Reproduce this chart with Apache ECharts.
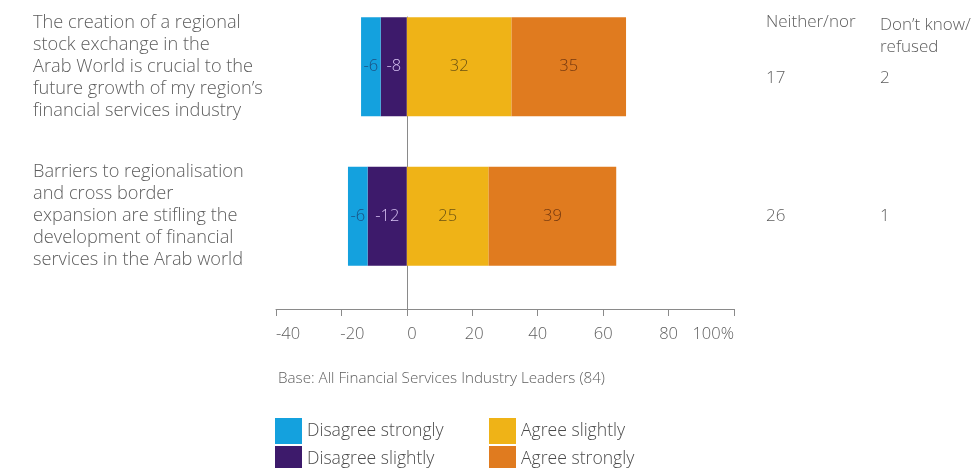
<!DOCTYPE html>
<html>
<head>
<meta charset="utf-8">
<script src="https://cdn.jsdelivr.net/npm/echarts@6/dist/echarts.min.js"></script>
<style>
  html, body { margin: 0; padding: 0; background: #ffffff; }
  #chart { width: 976px; height: 468px; }
</style>
</head>
<body>
<div id="chart"></div>
<script>
// Statements shown on the left (line breaks as printed)
const categories = [
  'The creation of a regional\nstock exchange in the\nArab World is crucial to the\nfuture growth of my region\u2019s\nfinancial services industry',
  'Barriers to regionalisation\nand cross border\nexpansion are stifling the\ndevelopment of financial\nservices in the Arab world'
];

// Response shares (%), disagreement drawn to the left of zero
const disagreeStrongly = [-6, -6];
const disagreeSlightly = [-8, -12];
const agreeSlightly = [32, 25];
const agreeStrongly = [35, 39];

// Side columns
const neitherNor = [17, 26];
const dontKnow = [2, 1];

// Axis range and step (%)
const axisMin = -40;
const axisMax = 100;
const axisStep = 20;

const FONT = '"Open Sans", Lato, sans-serif';
const WEIGHT = 300;
const TEXT = '#5e5e5e';

const chart = echarts.init(document.getElementById('chart'), null, { renderer: 'canvas' });

function barSeries(name, data, color, labelColor) {
  return {
    name: name,
    type: 'bar',
    stack: 'total',
    xAxisIndex: 0,
    yAxisIndex: 0,
    data: data,
    barWidth: 99,
    itemStyle: { color: color },
    label: {
      show: true,
      position: 'inside',
      color: labelColor,
      fontFamily: FONT,
      fontWeight: WEIGHT,
      fontSize: 16.5,
      formatter: '{c}'
    },
    emphasis: { disabled: true }
  };
}

function tickLabel(v) {
  const key = v === -20 ? 'a' : v === 0 ? 'b' : v === 20 ? 'c' : 'n';
  return '{' + key + '|' + (v === 100 ? '100%' : v) + '}';
}
const tickStyle = { fontFamily: FONT, fontWeight: WEIGHT, fontSize: 16.5, color: TEXT };
const tickRich = {
  a: Object.assign({ padding: [0, 0, 0, 22] }, tickStyle),
  b: Object.assign({ padding: [0, 0, 0, 10] }, tickStyle),
  c: Object.assign({ padding: [0, 0, 0, 4] }, tickStyle),
  n: tickStyle
};

function sideAxis(values, offset) {
  const style = { fontFamily: FONT, fontWeight: WEIGHT, fontSize: 17, color: TEXT };
  return {
    type: 'category',
    gridIndex: 0,
    data: categories,
    inverse: true,
    position: 'right',
    offset: offset,
    axisLine: { show: false },
    axisTick: { show: false },
    axisLabel: Object.assign({
      align: 'left',
      margin: 32,
      formatter: function (v, i) {
        return (i === 0 ? '{t|' : '{m|') + values[i] + '}';
      },
      rich: {
        t: Object.assign({ padding: [22, 0, 0, 0] }, style),
        m: style
      }
    }, style)
  };
}

function legendBlock(left, names) {
  return {
    orient: 'vertical',
    left: left,
    top: 413,
    height: 80,
    itemWidth: 27,
    itemHeight: 26,
    itemGap: 2,
    icon: 'rect',
    selectedMode: false,
    data: names,
    textStyle: { fontFamily: FONT, fontWeight: WEIGHT, fontSize: 17.6, color: '#4a4a4a' }
  };
}

const option = {
  backgroundColor: '#ffffff',
  animation: false,
  textStyle: { fontFamily: FONT },
  title: {
    text: 'Base: All Financial Services Industry Leaders (84)',
    left: 273,
    top: 366,
    textStyle: { fontFamily: FONT, fontSize: 15.2, fontWeight: WEIGHT, color: TEXT }
  },
  legend: [
    legendBlock(270, ['Disagree strongly', 'Disagree slightly']),
    legendBlock(484, ['Agree slightly', 'Agree strongly'])
  ],
  grid: [
    { left: 276, right: 242, top: -8, height: 299, outerBoundsMode: 'none' },
    { left: 276, right: 242, top: 17, height: 292, outerBoundsMode: 'none' }
  ],
  xAxis: [
    {
      type: 'value',
      gridIndex: 0,
      min: axisMin,
      max: axisMax,
      interval: axisStep,
      show: false
    },
    {
      type: 'value',
      gridIndex: 1,
      min: axisMin,
      max: axisMax,
      interval: axisStep,
      position: 'bottom',
      axisLine: { show: true, onZero: false, lineStyle: { color: '#8a8a8a', width: 1 } },
      axisTick: { show: true, length: 7, lineStyle: { color: '#8a8a8a' } },
      splitLine: { show: false },
      axisLabel: Object.assign({
        margin: 17,
        alignMinLabel: 'left',
        alignMaxLabel: 'right',
        formatter: tickLabel,
        rich: tickRich
      }, tickStyle)
    }
  ],
  yAxis: [
    {
      type: 'category',
      gridIndex: 0,
      data: categories,
      inverse: true,
      axisLine: { show: false },
      axisTick: { show: false },
      axisLabel: {
        align: 'left',
        margin: 243,
        fontFamily: FONT,
        fontWeight: WEIGHT,
        fontSize: 18.2,
        lineHeight: 22,
        color: TEXT
      }
    },
    sideAxis(neitherNor, 0),
    sideAxis(dontKnow, 114),
    {
      // zero reference line running down to the scale
      type: 'value',
      gridIndex: 1,
      min: 0,
      max: 1,
      axisLine: { show: true, onZero: true, lineStyle: { color: '#8a8a8a', width: 1 } },
      axisTick: { show: false },
      axisLabel: { show: false },
      splitLine: { show: false }
    }
  ],
  graphic: [
    {
      type: 'text',
      left: 766,
      top: 14,
      style: { text: 'Neither/nor', font: WEIGHT + ' 17px ' + FONT, fill: TEXT }
    },
    {
      type: 'text',
      left: 880,
      top: 14,
      style: { text: 'Don\u2019t know/\nrefused', font: WEIGHT + ' 17px ' + FONT, fill: TEXT, lineHeight: 22 }
    }
  ],
  series: [
    barSeries('Disagree slightly', disagreeSlightly, '#3d1a6b', '#d7c2f2'),
    barSeries('Disagree strongly', disagreeStrongly, '#14a1de', '#1b4f80'),
    barSeries('Agree slightly', agreeSlightly, '#efb317', '#6b5212'),
    barSeries('Agree strongly', agreeStrongly, '#e07b1f', '#74380f')
  ]
};

chart.setOption(option);
</script>
</body>
</html>
